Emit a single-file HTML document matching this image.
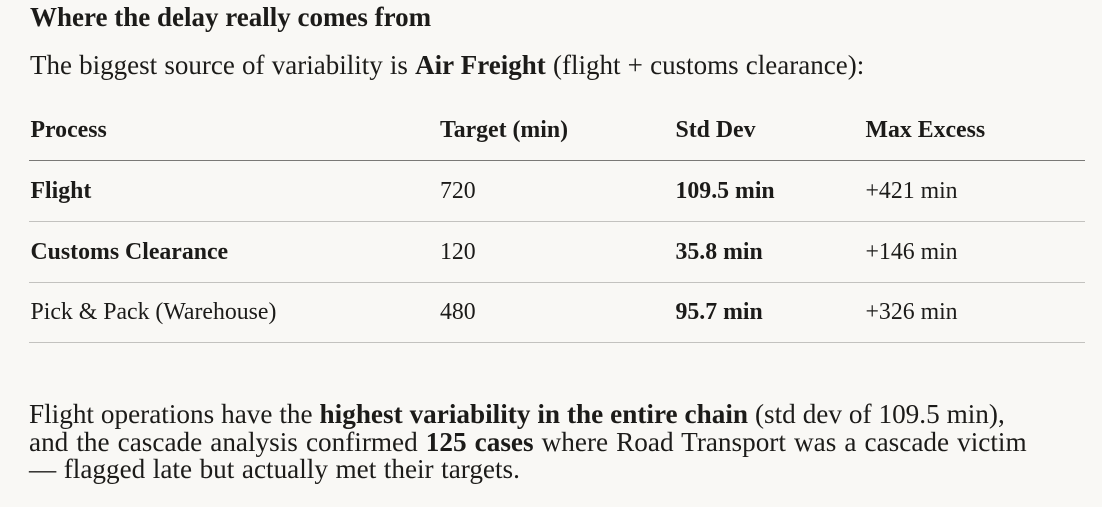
<!DOCTYPE html>
<html>
<head>
<meta charset="utf-8">
<style>
  html, body { margin:0; padding:0; }
  body {
    width:1102px; height:507px; overflow:hidden; position:relative;
    background:#f9f8f5; color:#1c1b19;
    font-family:"Liberation Serif", serif;
  }
  .t { position:absolute; white-space:nowrap; }
  .big { font-size:27px; line-height:27px; }
  .tb { font-size:23.8px; line-height:24px; }
  b { font-weight:bold; }
  .hl { position:absolute; left:29px; width:1056px; height:1px; }
  .para { font-size:27.2px; line-height:27.5px; }
</style>
</head>
<body>
  <div class="t big" style="left:30px; top:4px;"><b>Where the delay really comes from</b></div>
  <div class="t big" style="left:30px; top:51.5px; word-spacing:0.45px;">The biggest source of variability is <b>Air Freight</b> (flight + customs clearance):</div>

  <!-- table header -->
  <div class="t tb" style="left:30.5px; top:118px;"><b>Process</b></div>
  <div class="t tb" style="left:440px; top:118px;"><b>Target (min)</b></div>
  <div class="t tb" style="left:675.5px; top:118px;"><b>Std Dev</b></div>
  <div class="t tb" style="left:865.5px; top:118px;"><b>Max Excess</b></div>
  <div class="hl" style="top:160px; background:#7a7976;"></div>

  <!-- row 1 -->
  <div class="t tb" style="left:30.5px; top:179px;"><b>Flight</b></div>
  <div class="t tb" style="left:440px; top:179px;">720</div>
  <div class="t tb" style="left:675.5px; top:179px;"><b>109.5 min</b></div>
  <div class="t tb" style="left:865.5px; top:179px;">+421 min</div>
  <div class="hl" style="top:221px; background:#c3c2bf;"></div>

  <!-- row 2 -->
  <div class="t tb" style="left:30.5px; top:239.5px;"><b>Customs Clearance</b></div>
  <div class="t tb" style="left:440px; top:239.5px;">120</div>
  <div class="t tb" style="left:675.5px; top:239.5px;"><b>35.8 min</b></div>
  <div class="t tb" style="left:865.5px; top:239.5px;">+146 min</div>
  <div class="hl" style="top:282px; background:#c3c2bf;"></div>

  <!-- row 3 -->
  <div class="t tb" style="left:30.5px; top:300px;">Pick &amp; Pack (Warehouse)</div>
  <div class="t tb" style="left:440px; top:300px;">480</div>
  <div class="t tb" style="left:675.5px; top:300px;"><b>95.7 min</b></div>
  <div class="t tb" style="left:865.5px; top:300px;">+326 min</div>
  <div class="hl" style="top:342px; background:#c3c2bf;"></div>

  <!-- paragraph -->
  <div class="t para" style="left:29px; top:401px; word-spacing:0.15px;">Flight operations have the <b>highest variability in the entire chain</b> (std dev of 109.5 min),</div>
  <div class="t para" style="left:29px; top:428.5px; word-spacing:1.3px;">and the cascade analysis confirmed <b>125 cases</b> where Road Transport was a cascade victim</div>
  <div class="t para" style="left:29px; top:456px; word-spacing:0.75px;">— flagged late but actually met their targets.</div>
</body>
</html>
